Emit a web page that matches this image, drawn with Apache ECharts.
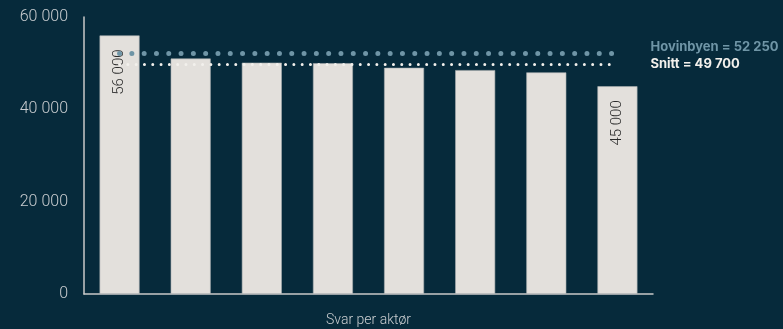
<!DOCTYPE html>
<html>
<head>
<meta charset="utf-8">
<script src="https://cdn.jsdelivr.net/npm/echarts@6/dist/echarts.min.js"></script>
<style>
html,body{margin:0;padding:0;background:#062a3b;}
#chart{width:783px;height:329px;}
</style>
</head>
<body>
<div id="chart"></div>
<script>
const categories = ['Aktør 1','Aktør 2','Aktør 3','Aktør 4','Aktør 5','Aktør 6','Aktør 7','Aktør 8'];
const values = [56000, 51000, 50100, 50000, 49000, 48500, 48000, 45000];
const showValueLabel = [true, false, false, false, false, false, false, true];
const hovinbyenValue = 52250;
const hovinbyenLabel = 'Hovinbyen = 52 250';
const snittValue = 49700;
const snittLabel = 'Snitt = 49 700';
const yTicks = [0, 20000, 40000, 60000];
const xAxisName = 'Svar per aktør';

const fmt = v => String(v).replace(/\B(?=(\d{3})+(?!\d))/g, ' ');

const chart = echarts.init(document.getElementById('chart'));
chart.setOption({
  backgroundColor: '#062a3b',
  animation: false,
  grid: {left: 84, right: 130, top: 17, bottom: 35, containLabel: false, outerBoundsMode: 'none'},
  xAxis: {
    type: 'category',
    data: categories,
    name: xAxisName,
    nameLocation: 'middle',
    nameGap: 19,
    nameTextStyle: {color: '#c9cdd0', fontSize: 14, fontFamily: 'Roboto', fontWeight: 300},
    axisLine: {lineStyle: {color: '#c9c9c9', width: 1.5}},
    axisTick: {show: false},
    axisLabel: {show: false}
  },
  yAxis: {
    type: 'value',
    min: yTicks[0],
    max: yTicks[yTicks.length - 1],
    interval: yTicks[1] - yTicks[0],
    axisLine: {show: true, lineStyle: {color: '#c9c9c9', width: 1.5}},
    axisTick: {show: false},
    splitLine: {show: false},
    axisLabel: {
      color: '#c9cdd0', fontSize: 16, fontFamily: 'Roboto', fontWeight: 300, margin: 16,
      formatter: v => fmt(v)
    }
  },
  series: [
    {
      type: 'bar',
      barWidth: 40,
      data: values.map((v, i) => ({
        value: v,
        label: {show: showValueLabel[i]}
      })),
      itemStyle: {color: '#e3e0dc', borderColor: '#a9aeb0', borderWidth: 0.6},
      label: {
        position: 'insideTop',
        rotate: 90,
        align: 'right',
        verticalAlign: 'middle',
        distance: 14,
        color: '#2b2b2b',
        fontSize: 15,
        fontFamily: 'Roboto',
        fontWeight: 300,
        formatter: p => fmt(p.value)
      },
      markLine: {
        silent: true,
        symbol: 'none',
        z: 5,
        data: [
          [
            {coord: [categories[0], hovinbyenValue], lineStyle: {color: '#6f95a6', width: 5, type: [0, 12.3], cap: 'round'},
             label: {show: true, position: 'end', formatter: hovinbyenLabel + '\n', lineHeight: 12, color: '#6f95a6', fontWeight: 'bold', fontSize: 13, fontFamily: 'Inter', distance: 33}},
            {coord: [categories[categories.length - 1], hovinbyenValue]}
          ],
          [
            {coord: [categories[0], snittValue], lineStyle: {color: '#f2f0ec', width: 3, type: [0, 8.3], cap: 'round'},
             label: {show: true, position: 'end', formatter: snittLabel, color: '#f2f0ec', fontWeight: 'bold', fontSize: 13, fontFamily: 'Inter', distance: 33}},
            {coord: [categories[categories.length - 1], snittValue]}
          ]
        ]
      }
    }
  ]
});
</script>
</body>
</html>
